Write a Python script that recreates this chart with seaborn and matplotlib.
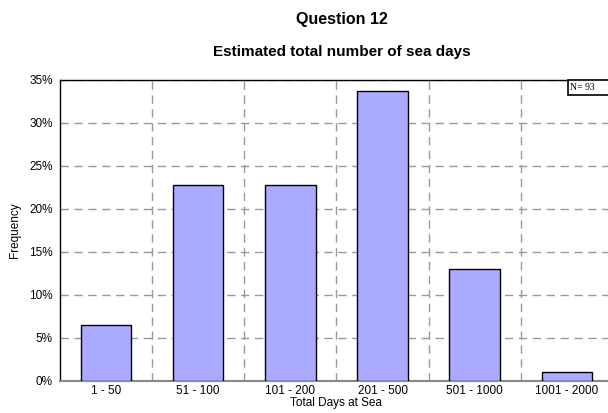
import numpy as np
import matplotlib.pyplot as plt
import seaborn as sns
from matplotlib.patches import Rectangle
from matplotlib.ticker import FixedLocator, PercentFormatter

plt.switch_backend("Agg")

categories = ["1 - 50", "51 - 100", "101 - 200", "201 - 500", "501 - 1000", "1001 - 2000"]
frequency = [6.5, 22.8, 22.8, 33.7, 13.0, 1.1]
y_ticks = [0, 5, 10, 15, 20, 25, 30, 35]
n_label = "N= 93"

sns.set_style("white")
plt.rcParams["font.family"] = ["Liberation Sans", "DejaVu Sans"]
plt.rcParams["text.color"] = "black"
plt.rcParams["axes.labelcolor"] = "black"

fig = plt.figure(figsize=(6.08, 4.13), dpi=100)
ax = fig.add_axes([0.0983, 0.0775, 0.910, 0.729])

sns.barplot(x=categories, y=frequency, color="#aaaaff", saturation=1,
            width=0.55, edgecolor="black", linewidth=1, ax=ax, zorder=3)

ax.set_xlim(-0.5, len(categories) - 0.5)
ax.set_ylim(0, 35)
ax.set_yticks(y_ticks)
ax.yaxis.set_major_formatter(PercentFormatter(decimals=0))
ax.yaxis.set_minor_locator(FixedLocator(np.arange(2.5, 35, 5)))
ax.xaxis.set_minor_locator(FixedLocator(np.arange(0.5, len(categories) - 0.5, 1)))

ax.grid(axis="y", which="major", color="#999999", linestyle=(0, (6, 4)), linewidth=1, zorder=0)
ax.grid(axis="x", which="minor", color="#999999", linestyle=(0, (6, 4)), linewidth=1, zorder=0)
ax.grid(axis="x", which="major", visible=False)

ax.tick_params(axis="x", which="major", length=0, labelsize=8.5, pad=3, labelcolor="black")
ax.tick_params(axis="x", which="minor", length=5, direction="inout", color="#888888")
ax.tick_params(axis="y", which="major", length=6, direction="inout", labelsize=8.5, pad=2,
               color="#888888", labelcolor="black")
ax.tick_params(axis="y", which="minor", length=4, direction="inout", color="#888888")

for side in ["left", "top", "right"]:
    ax.spines[side].set_color("black")
    ax.spines[side].set_linewidth(1)
ax.spines["bottom"].set_color("#888888")
ax.spines["bottom"].set_linewidth(1.5)

ax.set_xlabel("Total Days at Sea", fontsize=8.5, labelpad=0)
ax.set_ylabel("Frequency", fontsize=8.5, labelpad=6)

fig.text(0.563, 0.952, "Question 12", ha="center", va="center", fontsize=11.5, fontweight="bold")
fig.text(0.563, 0.875, "Estimated total number of sea days", ha="center", va="center",
         fontsize=11, fontweight="bold")

# N label box, clipped by the right edge like the original
fig.patches.append(Rectangle((568 / 608, 1 - 95 / 413), 60 / 608, 15 / 413,
                             transform=fig.transFigure, facecolor="white",
                             edgecolor="black", linewidth=1.2, zorder=5))
fig.text(570 / 608, 1 - 87.5 / 413, n_label, ha="left", va="center", fontsize=7,
         family="Liberation Serif", zorder=6)

plt.savefig("out.png", dpi=100)
plt.close()
